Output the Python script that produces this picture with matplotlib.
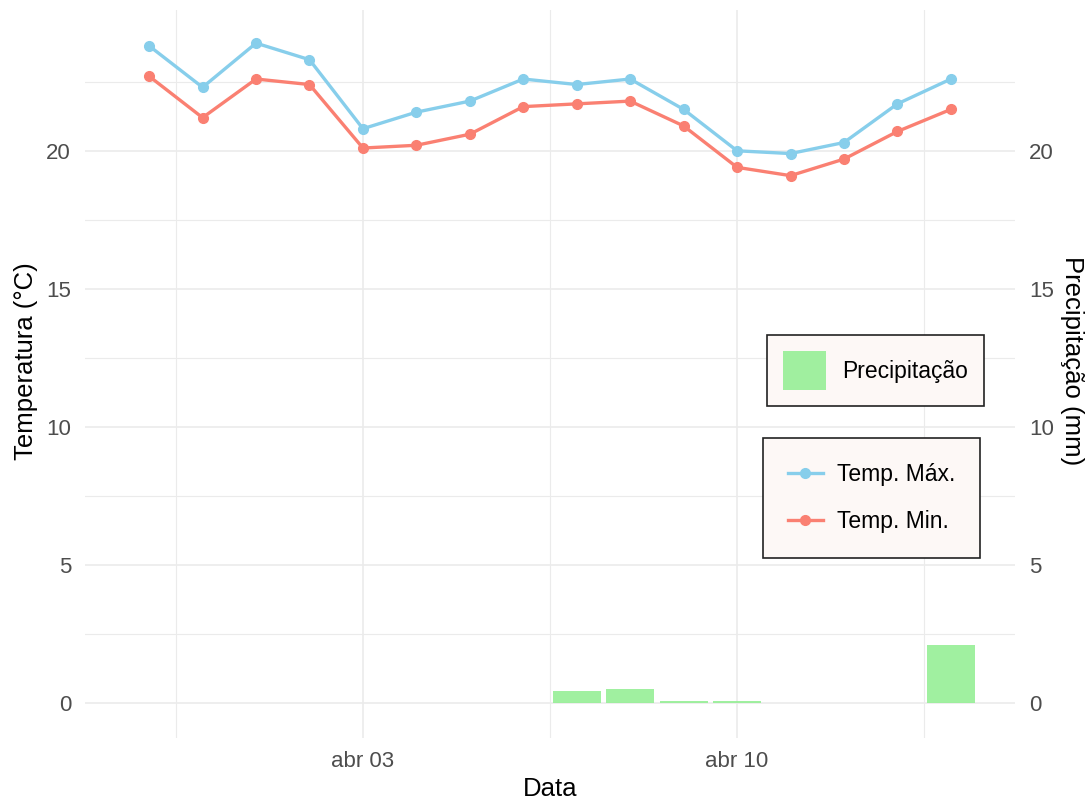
import numpy as np
import pandas as pd
import matplotlib.pyplot as plt
import matplotlib.dates as mdates
from matplotlib.patches import Patch
from matplotlib.lines import Line2D

plt.rcParams["font.family"] = ["Liberation Sans", "DejaVu Sans"]

# ---- data ----
dates = pd.date_range("2024-03-30", "2024-04-14", freq="D")
temp_max = [23.8, 22.3, 23.9, 23.3, 20.8, 21.4, 21.8, 22.6, 22.4, 22.6,
            21.5, 20.0, 19.9, 20.3, 21.7, 22.6]
temp_min = [22.7, 21.2, 22.6, 22.4, 20.1, 20.2, 20.6, 21.6, 21.7, 21.8,
            20.9, 19.4, 19.1, 19.7, 20.7, 21.5]
precip = [0, 0, 0, 0, 0, 0, 0, 0, 0.43, 0.5, 0.07, 0.07, 0, 0, 0, 2.1]

c_max = "#87CEEB"
c_min = "#FA8072"
c_rain = "#90EE90"
grid_c = "#EBEBEB"
tick_c = "#4D4D4D"

fig = plt.figure(figsize=(10.88, 8.05), dpi=100)
ax = fig.add_axes([85 / 1088, 67 / 805, 930 / 1088, 728 / 805])
ax2 = ax.twinx()

# precipitation bars (secondary axis, same scale)
ax2.bar(dates, precip, width=0.9, color=c_rain, alpha=0.85, zorder=2)

ax.plot(dates, temp_max, color=c_max, lw=2.4, marker="o", ms=7, zorder=3)
ax.plot(dates, temp_min, color=c_min, lw=2.4, marker="o", ms=7, zorder=3)

xlo = dates[0] - pd.Timedelta(days=1.2)
xhi = dates[-1] + pd.Timedelta(days=1.2)
ylim = (-1.27, 25.1)
for a in (ax, ax2):
    a.set_xlim(xlo, xhi)
    a.set_ylim(*ylim)
    a.set_yticks([0, 5, 10, 15, 20])
    a.set_yticks([2.5, 7.5, 12.5, 17.5, 22.5], minor=True)
    for s in a.spines.values():
        s.set_visible(False)
    a.tick_params(axis="y", which="both", length=0, labelsize=16,
                  labelcolor=tick_c, pad=10)
ax.tick_params(axis="x", which="both", length=0, labelsize=16,
               labelcolor=tick_c, pad=9)

ax.set_xticks(pd.to_datetime(["2024-03-27", "2024-04-03", "2024-04-10", "2024-04-17"]))
ax.set_xticks(pd.to_datetime(["2024-03-30 12:00", "2024-04-06 12:00",
                              "2024-04-13 12:00"]), minor=True)
ax.xaxis.set_major_formatter(mdates.DateFormatter("abr %d"))
ax.set_xlim(xlo, xhi)

ax.grid(True, which="major", color=grid_c, lw=1.2, zorder=0)
ax.grid(True, which="minor", color=grid_c, lw=0.8, zorder=0)
ax.set_axisbelow(True)

ax.set_xlabel("Data", fontsize=18.5, labelpad=4)
ax.set_ylabel("Temperatura (°C)", fontsize=18.5, labelpad=6)
ax2.set_ylabel("Precipitação (mm)", fontsize=18.5, rotation=-90, labelpad=22)
ax.yaxis.label.set_y(0.518)
ax2.yaxis.label.set_y(0.518)

# legends
leg_kw = dict(loc="center", fontsize=16.5, frameon=True, fancybox=False,
              facecolor="#FDF8F6", edgecolor="#222222", framealpha=1)
l1 = fig.legend(handles=[Patch(facecolor=c_rain, alpha=0.85, label="Precipitação")],
                bbox_to_anchor=(875.5 / 1088, 1 - 370.5 / 805),
                handlelength=1.88, handleheight=2.18, borderpad=0.7,
                handletextpad=0.7, **leg_kw)
l2 = fig.legend(handles=[Line2D([], [], color=c_max, lw=2.4, marker="o", ms=7,
                                label="Temp. Máx."),
                         Line2D([], [], color=c_min, lw=2.4, marker="o", ms=7,
                                label="Temp. Min.")],
                bbox_to_anchor=(871.5 / 1088, 1 - 498 / 805),
                handlelength=1.55, labelspacing=1.05,
                borderpad=1.09, handletextpad=0.6, **leg_kw)
for l in (l1, l2):
    l.get_frame().set_linewidth(1.2)

fig.savefig("out.png", dpi=100)
